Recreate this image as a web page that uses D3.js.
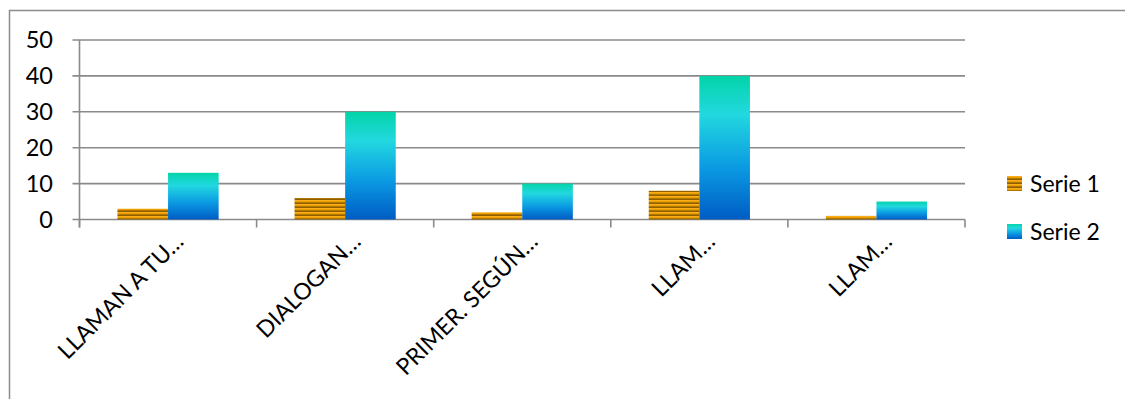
<!DOCTYPE html>
<html><head><meta charset="utf-8">
<script src="https://cdn.jsdelivr.net/npm/d3@7"></script>
<style>html,body{margin:0;padding:0;background:#fff;}svg{display:block;}</style>
</head><body>
<svg id="c" width="1125" height="399"></svg>
<script>
const categories = ["LLAMAN A TU…", "DIALOGAN…", "PRIMER. SEGÚN…", "LLAM…", "LLAM…"];
const serie1 = [3, 6, 2, 8, 1];
const serie2 = [13, 30, 10, 40, 5];
const seriesNames = ["Serie 1", "Serie 2"];
const yTicks = [0, 10, 20, 30, 40, 50];

const svg = d3.select("#c");
const font = "Lato, 'Open Sans', sans-serif";
const defs = svg.append("defs");

// stripe pattern for Serie 1
const pat = defs.append("pattern").attr("id","stripes").attr("patternUnits","userSpaceOnUse")
  .attr("width",8).attr("height",4);
pat.append("rect").attr("width",8).attr("height",4).attr("fill","#EE9F00");
pat.append("rect").attr("y",0).attr("width",8).attr("height",1).attr("fill","#F7AE1A");
pat.append("rect").attr("y",2).attr("width",8).attr("height",1).attr("fill","#B07600");
pat.append("rect").attr("y",3).attr("width",8).attr("height",1).attr("fill","#8E5E00");

// gradient for Serie 2
const grad = defs.append("linearGradient").attr("id","grad2").attr("x1",0).attr("y1",0).attr("x2",0).attr("y2",1);
[[0,"#03D4A8"],[0.27,"#22D8E0"],[0.65,"#0A98E2"],[1,"#005CC4"]].forEach(([o,c])=>
  grad.append("stop").attr("offset",o).attr("stop-color",c));

// frame
svg.append("rect").attr("x",9.5).attr("y",10.5).attr("width",1130).attr("height",400)
  .attr("fill","none").attr("stroke","#8c8c8c").attr("stroke-width",1.5);

const x0 = 79.5, x1 = 965;
const x = d3.scaleBand().domain(d3.range(categories.length)).range([x0, x1]);
const y = d3.scaleLinear().domain([0, 50]).range([219.5, 40]);

const grid = "#8a8a8a";
// gridlines
svg.append("g").selectAll("line").data(yTicks).join("line")
  .attr("x1", x0 - 7).attr("x2", x1).attr("y1", d=>y(d)).attr("y2", d=>y(d))
  .attr("stroke", grid).attr("stroke-width", 1.6);
// y axis line
svg.append("line").attr("x1",x0).attr("x2",x0).attr("y1",y(50)).attr("y2",y(0)+8)
  .attr("stroke",grid).attr("stroke-width",1.6);
// x ticks
svg.append("g").selectAll("line").data(d3.range(categories.length+1)).join("line")
  .attr("x1", i => x0 + i*x.bandwidth()).attr("x2", i => x0 + i*x.bandwidth())
  .attr("y1", y(0)).attr("y2", y(0)+8).attr("stroke",grid).attr("stroke-width",1.6);

// y labels
svg.append("g").selectAll("text").data(yTicks).join("text")
  .attr("x", 53).attr("y", d=>y(d)).attr("dy","0.36em").attr("text-anchor","end")
  .attr("font-family",font).attr("font-size",23.5).attr("fill","#000").text(d=>d);

// bars
const bw = x.bandwidth();
const barW = bw / 3.5; // gap width 150%
const gap = (bw - 2*barW)/2;
svg.append("g").selectAll("rect").data(serie1).join("rect")
  .attr("x",(d,i)=>x(i)+gap).attr("width",barW)
  .attr("y",d=>y(d)).attr("height",d=>y(0)-y(d)).attr("fill","url(#stripes)");
svg.append("g").selectAll("rect").data(serie2).join("rect")
  .attr("x",(d,i)=>x(i)+gap+barW).attr("width",barW)
  .attr("y",d=>y(d)).attr("height",d=>y(0)-y(d)).attr("fill","url(#grad2)");

// x labels
svg.append("g").selectAll("text").data(categories).join("text")
  .attr("transform",(d,i)=>`translate(${x(i)+bw/2+17},243) rotate(-45)`)
  .attr("text-anchor","end").attr("font-family",font).attr("font-size",23).attr("fill","#000")
  .text(d=>d);

// legend
const leg = svg.append("g");
const fills = ["url(#stripes)","url(#grad2)"];
const legY = [176, 224];
seriesNames.forEach((n,i)=>{
  leg.append("rect").attr("x",1007).attr("y",legY[i]).attr("width",15).attr("height",15).attr("fill",fills[i]);
  leg.append("text").attr("x",1030).attr("y",legY[i]+7.5).attr("dy","0.36em")
    .attr("font-family",font).attr("font-size",23).attr("fill","#000").text(n);
});
</script>
</body></html>
